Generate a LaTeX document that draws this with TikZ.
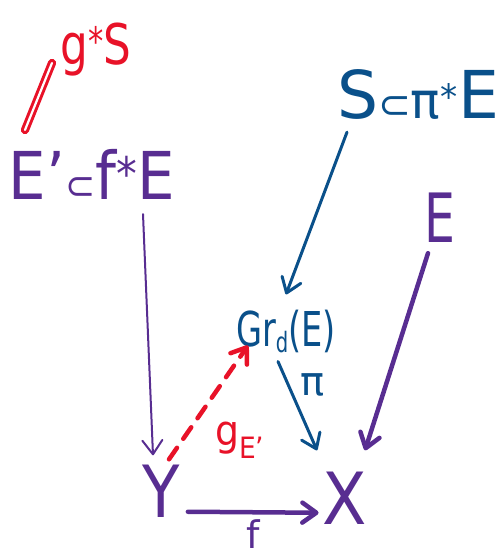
\documentclass[tikz,border=0pt]{standalone}
\usepackage{fontspec}
\setmainfont{DejaVu Sans}
\usepackage{graphicx}
\usetikzlibrary{arrows.meta}
\definecolor{hwpurple}{RGB}{88,45,145}
\definecolor{hwblue}{RGB}{10,80,138}
\definecolor{hwred}{RGB}{232,18,40}
% handwritten-ish text: size, horizontal squeeze, text
\newcommand{\hw}[3]{\scalebox{#2}[1]{\fontsize{#1}{#1}\selectfont #3}}
\newcommand{\fs}[1]{\fontsize{#1}{#1}\selectfont}
\begin{document}
\begin{tikzpicture}[x=1pt, y=1pt, line cap=round, every node/.style={inner sep=2pt}]
  \tikzset{
    hwarrow/.style={-{Straight Barb[length=14pt,width=20pt,round]}},
    obj/.style={anchor=base}
  }
  \useasboundingbox (0,0) rectangle (500,558);
  % objects (baselines)
  \node[obj, hwred] (gS) at (96,493)
    {\hw{56}{0.78}{g\textsuperscript{*}S}};
  \node[obj, hwpurple] (Ep) at (92,358)
    {\hw{66}{0.9}{E'\fs{40}⊂\fs{66}f\textsuperscript{*}E}};
  \node[obj, hwblue] (S) at (418,439)
    {\hw{66}{0.98}{S\fs{40}⊂\fs{50}π\textsuperscript{*}\fs{66}E}};
  \node[obj, hwpurple] (E) at (440,315) {\hw{68}{0.72}{E}};
  \node[obj, hwblue] (Gr) at (286,211)
    {\hw{48}{0.7}{Gr\raisebox{-5pt}{\fs{28}d}(E)}};
  \node[obj, hwpurple] (Y) at (161,40) {\hw{72}{0.85}{Y}};
  \node[obj, hwpurple] (X) at (345,33) {\hw{72}{0.9}{X}};
  % equality sign between E' and g*S
  \draw[hwred, double, double distance=2.2pt, line width=3pt]
    ([shift={(-67pt,70pt)}]Ep.base) -- ([shift={(-44pt,2pt)}]gS.base);
  % vertical maps
  \draw[hwpurple, line width=2pt, hwarrow]
    ([xshift=51pt,yshift=-12pt]Ep.south) -- ([xshift=-8pt,yshift=8pt]Y.north);
  \draw[hwblue, line width=3pt, hwarrow]
    ([xshift=-71pt,yshift=-10pt]S.south) -- ([yshift=14pt]Gr.north);
  \draw[hwpurple, line width=4.5pt, hwarrow]
    ([xshift=-12pt,yshift=-8pt]E.south) -- ([xshift=20pt,yshift=20pt]X.north);
  \draw[hwblue, line width=3pt, hwarrow]
    ([xshift=-8pt,yshift=-6pt]Gr.south) -- ([xshift=-28pt,yshift=20pt]X.north);
  \draw[hwpurple, line width=4.5pt, hwarrow]
    ([xshift=6pt,yshift=-20pt]Y.east) -- ([xshift=-2pt,yshift=-14pt]X.west)
    node[midway, below=5pt, inner sep=0pt] (f) {\hw{38}{1}{f}};
  % lift
  \draw[hwred, line width=4.5pt, dash pattern=on 14pt off 11pt, hwarrow]
    ([xshift=8pt,yshift=4pt]Y.north) -- ([xshift=-38pt,yshift=10pt]Gr.south);
  % map labels
  \node[hwblue] (pi) at (313,173) {\hw{40}{1}{π}};
  \node[hwred] (gEp) at (240,118)
    {\hw{42}{0.9}{g\textsubscript{E'}}};
\end{tikzpicture}
\end{document}
